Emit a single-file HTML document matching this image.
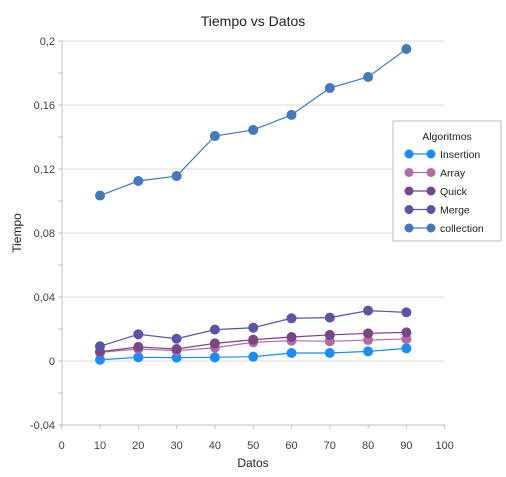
<!DOCTYPE html>
<html><head><meta charset="utf-8"><style>
body{margin:0;background:#fff}
svg text{font-family:"Liberation Sans","DejaVu Sans",sans-serif;fill:#404040}
</style></head><body>
<svg id="chart" width="506" height="472" xmlns="http://www.w3.org/2000/svg">
<rect width="506" height="472" fill="#fff"/>
<text x="253" y="26" text-anchor="middle" font-size="14" style="fill:#222">Tiempo vs Datos</text>
<g id="grid"></g><g id="axes"></g><g id="series"></g>
<text x="253" y="467" text-anchor="middle" font-size="12" style="fill:#222">Datos</text>
<text transform="translate(21,233) rotate(-90)" text-anchor="middle" font-size="12" style="fill:#222">Tiempo</text>
<g id="legend">
<rect x="393" y="121" width="108" height="120" fill="#fff" stroke="#bbb"/>
<text x="447" y="140" text-anchor="middle" font-size="10.5" style="fill:#222">Algoritmos</text>
</g>
</svg>
<script>
const xValues=[10,20,30,40,50,60,70,80,90];
const seriesNames=["Insertion","Array","Quick","Merge","collection"];
const insertion=[0.0008,0.0023,0.0021,0.0023,0.0027,0.005,0.005,0.006,0.0079];
const arrayS=[0.0054,0.0075,0.0065,0.0083,0.0117,0.0127,0.0123,0.0131,0.0138];
const quick=[0.0058,0.0088,0.0075,0.011,0.0133,0.015,0.0163,0.0173,0.0179];
const merge=[0.0092,0.0167,0.0139,0.0196,0.0208,0.0267,0.0271,0.0315,0.0304];
const collection=[0.1034,0.1125,0.1156,0.1406,0.1444,0.1538,0.1706,0.1775,0.195];
const yTicks=["-0,04","0","0,04","0,08","0,12","0,16","0,2"];
const yTickVals=[-0.04,0,0.04,0.08,0.12,0.16,0.2];
const xTicks=[0,10,20,30,40,50,60,70,80,90,100];
const colors=["#1a8cff","#b46aa6","#7a4585","#5854a6","#4479bd"];
const NS="http://www.w3.org/2000/svg";
const X=v=>61.7+v*3.83;
const Y=v=>361-v*1600;
function mk(p,t,a){const e=document.createElementNS(NS,t);for(const k in a)e.setAttribute(k,a[k]);p.appendChild(e);return e;}
const grid=document.getElementById('grid'),axes=document.getElementById('axes'),ser=document.getElementById('series'),leg=document.getElementById('legend');
yTickVals.forEach((v,i)=>{
 const g=mk(grid,'line',{x1:62,x2:445,y1:Y(v),y2:Y(v),stroke:'#d9d9d9'});
 
 
 const t=mk(axes,'text',{x:55,y:Y(v)+4,'text-anchor':'end','font-size':'11'});
 t.textContent=yTicks[i];
 
 
});
for(let v=-0.04;v<=0.2001;v+=0.02){mk(axes,'line',{x1:58,x2:62,y1:Y(v),y2:Y(v),stroke:'#bfbfbf'});}
const ya=mk(axes,'line',{x1:62,x2:62,y1:Y(0.2),y2:Y(-0.04),stroke:'#bfbfbf'});


const xa=mk(axes,'line',{x1:62,x2:445,y1:Y(-0.04),y2:Y(-0.04),stroke:'#bfbfbf'});


xTicks.forEach(v=>{
 mk(axes,'line',{x1:X(v),x2:X(v),y1:Y(-0.04),y2:Y(-0.04)+4,stroke:'#bfbfbf'});
 const t=mk(axes,'text',{x:X(v),y:449,'text-anchor':'middle','font-size':'11'});
 t.textContent=v;
 
 
});
const all=[insertion,arrayS,quick,merge,collection];
all.forEach((d,s)=>{
 const g=mk(ser,'g',{});
 
 
 mk(g,'polyline',{points:d.map((v,i)=>X(xValues[i])+','+Y(v)).join(' '),fill:'none',stroke:colors[s],'stroke-width':1.2});
 d.forEach((v,i)=>{
  const c=mk(g,'circle',{cx:X(xValues[i]),cy:Y(v),r:5,fill:colors[s]});
  
  
 });
 const ly=154+s*18.5;
 const le=mk(leg,'g',{});
 
 
 mk(le,'line',{x1:409,x2:431,y1:ly,y2:ly,stroke:colors[s],'stroke-width':1.2});
 mk(le,'circle',{cx:409,cy:ly,r:4.5,fill:colors[s]});
 mk(le,'circle',{cx:431,cy:ly,r:4.5,fill:colors[s]});
 const t=mk(le,'text',{x:440,y:ly+4,'font-size':'10.5'});
 t.textContent=seriesNames[s];
 t.style.fill='#222';
});
</script>
</body></html>
